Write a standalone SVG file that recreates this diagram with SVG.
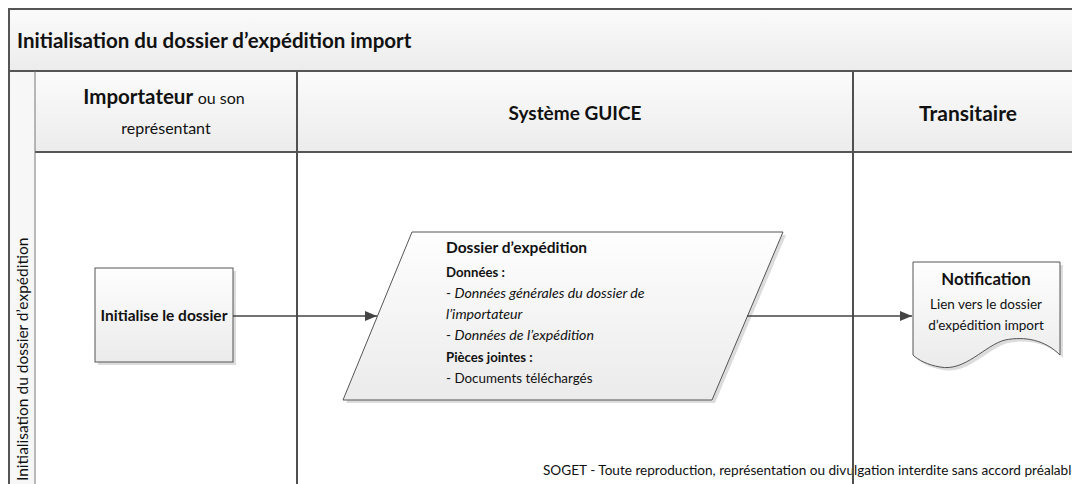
<svg xmlns="http://www.w3.org/2000/svg" width="1072" height="484" viewBox="0 0 1072 484">
  <style>
    text { font-family: Lato, "Noto Sans", "Liberation Sans", sans-serif; fill: #111; }
    .band { fill: url(#bandFill); }
    .frame { stroke: #555; stroke-width: 2; fill: none; }
    .lane { stroke: #505050; stroke-width: 2; fill: none; }
    .thin { stroke: #777; stroke-width: 1; fill: none; }
    .shape { fill: url(#shapeFill); stroke: #555; stroke-width: 1; }
    .shadow { fill: #dcdcdc; }
    .conn { stroke: #444; stroke-width: 1.3; fill: none; marker-end: url(#arrow); }
    .title { font-size: 20.5px; font-weight: bold; }
    .head { font-weight: bold; }
    .headSub { font-size: 16px; font-weight: normal; }
    .b { font-weight: bold; }
    .i { font-style: italic; }
  </style>
  <defs>
    <linearGradient id="bandFill" x1="0" y1="0" x2="0" y2="1">
      <stop offset="0" stop-color="#fbfbfb"/>
      <stop offset="1" stop-color="#ececec"/>
    </linearGradient>
    <linearGradient id="shapeFill" x1="0" y1="0" x2="0" y2="1">
      <stop offset="0" stop-color="#fefefe"/>
      <stop offset="1" stop-color="#ebebeb"/>
    </linearGradient>
    <marker id="arrow" viewBox="0 0 12 10" refX="12" refY="5" markerWidth="12" markerHeight="10" markerUnits="userSpaceOnUse" orient="auto">
      <path d="M0,0 L12,5 L0,10 Z" fill="#444"/>
    </marker>
  </defs>

  <!-- swimlane frame -->
  <g id="lanes">
    <rect x="9" y="9" width="1070" height="62" class="band"/>
    <rect x="35" y="71" width="1044" height="81" class="band"/>
    <rect x="9" y="71" width="26" height="420" fill="#f7f7f7"/>
    <path class="frame" d="M9,491 V9 H1079 M9,71 H1079 M35,152 H1079"/>
    <path class="thin" d="M35,71 V491"/>
    <path class="lane" d="M297,71 V491 M853,71 V491"/>
    <text class="title" x="17" y="48">Initialisation du dossier d’expédition import</text>
    <text class="head" x="164" y="104" font-size="20.5" text-anchor="middle">Importateur <tspan class="headSub">ou son</tspan></text>
    <text class="headSub" x="166" y="134" text-anchor="middle">représentant</text>
    <text class="head" x="575" y="120" font-size="19" text-anchor="middle">Système GUICE</text>
    <text class="head" x="968" y="121" font-size="21" text-anchor="middle">Transitaire</text>
    <text x="28" y="481" font-size="15.5" transform="rotate(-90 28 481)">Initialisation du dossier d’expédition</text>
  </g>

  <!-- process step -->
  <g id="initialise">
    <rect class="shadow" x="98" y="271" width="138" height="94"/>
    <rect class="shape" x="95" y="268" width="138" height="94"/>
    <text x="164" y="321" font-size="15.5" class="b" text-anchor="middle">Initialise le dossier</text>
  </g>

  <!-- data object -->
  <g id="dossier">
    <path class="shadow" d="M415,235 H786 L715,403 H346 Z"/>
    <path class="shape" d="M412,232 H783 L712,400 H343 Z"/>
    <text x="446" y="253" font-size="15.5" class="b">Dossier d’expédition</text>
    <text x="446" y="277" font-size="13.2" class="b">Données :</text>
    <text x="446" y="298" font-size="13.4">- <tspan class="i" font-size="14.2">Données générales du dossier de</tspan></text>
    <text x="446" y="319" font-size="14.2" class="i">l’importateur</text>
    <text x="446" y="340" font-size="13.4">- <tspan class="i" font-size="14.2">Données de l’expédition</tspan></text>
    <text x="446" y="362" font-size="13.2" class="b">Pièces jointes :</text>
    <text x="446" y="383" font-size="13.4">- Documents téléchargés</text>
  </g>

  <!-- document -->
  <g id="notification">
    <path class="shadow" d="M916,265 H1063 V358 C1048,343 1028,339 1008,343 C988,348 968,375 943,370 C931,368 921,363 916,358 Z"/>
    <path class="shape" d="M913,262 H1060 V355 C1045,340 1025,336 1005,340 C985,345 965,372 940,367 C928,365 918,360 913,355 Z"/>
    <text x="986" y="285" font-size="16.8" class="b" text-anchor="middle">Notification</text>
    <text x="986" y="309" font-size="13.5" text-anchor="middle">Lien vers le dossier</text>
    <text x="986" y="330" font-size="13.5" text-anchor="middle">d’expédition import</text>
  </g>

  <!-- connectors -->
  <g id="connectors">
    <path class="conn" d="M233,316 H377"/>
    <path class="conn" d="M747,316 H912"/>
  </g>

  <!-- footer notice, running past the right edge of the page -->
  <text x="543" y="475" font-size="13.6">SOGET - Toute reproduction, représentation ou divulgation interdite sans accord préalable</text>
  <path class="lane" d="M853,440 V491"/>
</svg>
